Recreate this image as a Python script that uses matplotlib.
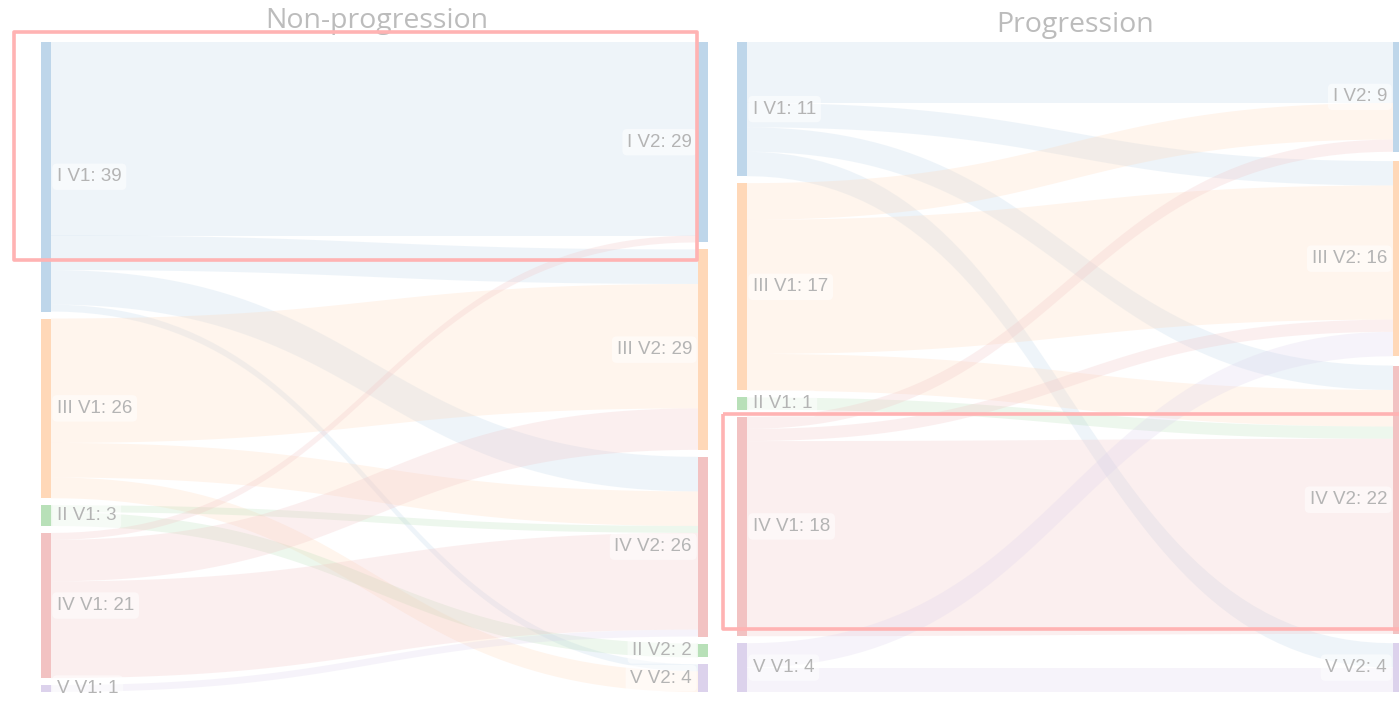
import numpy as np
import matplotlib
matplotlib.use('Agg')
import matplotlib.pyplot as plt
from matplotlib.patches import Rectangle, Polygon

# node order per column (top to bottom) and values
np_v1_names = ['I', 'III', 'II', 'IV', 'V']
np_v1_vals = [39, 26, 3, 21, 1]
np_v2_names = ['I', 'III', 'IV', 'II', 'V']
np_v2_vals = [29, 29, 26, 2, 4]
# flows (source V1 -> target V2, count)
np_src = ['I', 'I', 'I', 'I', 'III', 'III', 'III', 'II', 'II', 'IV', 'IV', 'IV', 'V']
np_tgt = ['I', 'III', 'IV', 'V', 'III', 'IV', 'V', 'IV', 'II', 'I', 'III', 'IV', 'IV']
np_cnt = [28, 5, 5, 1, 18, 5, 3, 1, 2, 1, 6, 14, 1]

pr_v1_names = ['I', 'III', 'II', 'IV', 'V']
pr_v1_vals = [11, 17, 1, 18, 4]
pr_v2_names = ['I', 'III', 'IV', 'V']
pr_v2_vals = [9, 16, 22, 4]
pr_src = ['I', 'I', 'I', 'I', 'III', 'III', 'III', 'II', 'IV', 'IV', 'IV', 'V', 'V']
pr_tgt = ['I', 'III', 'IV', 'V', 'I', 'III', 'IV', 'IV', 'I', 'III', 'IV', 'III', 'V']
pr_cnt = [5, 2, 2, 2, 3, 11, 3, 1, 1, 1, 16, 2, 2]

node_colors = {'I': '#bed6ea', 'III': '#ffd8b8', 'II': '#b8e0b8',
               'IV': '#f2c2c2', 'V': '#dcd2ec'}
text_col = '#b4b4b4'
label_font = ['Liberation Sans Narrow', 'Liberation Sans']
top, bottom, pad, node_w = 42, 692, 7, 10


def column_layout(names, vals, ky):
    gap = (bottom - top - sum(vals) * ky) / (len(vals) - 1)
    pos = {}
    y = top
    for n, v in zip(names, vals):
        pos[n] = [y, y + v * ky]
        y += v * ky + gap
    return pos


def band(ax, xa, xb, ya0, ya1, yb0, yb1, color):
    t = np.linspace(0, 1, 60)
    xm = (xa + xb) / 2
    bx = (1 - t)**3 * xa + 3 * (1 - t)**2 * t * xm + 3 * (1 - t) * t**2 * xm + t**3 * xb
    def by(y0, y1):
        return (1 - t)**3 * y0 + 3 * (1 - t)**2 * t * y0 + 3 * (1 - t) * t**2 * y1 + t**3 * y1
    xs = np.concatenate([bx, bx[::-1]])
    ys = np.concatenate([by(ya0, yb0), by(ya1, yb1)[::-1]])
    ax.add_patch(Polygon(np.column_stack([xs, ys]), closed=True, facecolor=color,
                         alpha=0.25, edgecolor='none', zorder=1))


def draw_sankey(ax, x0, x1, title, tx, ty, n1, v1, n2, v2, src, tgt, cnt):
    ky = min((bottom - top - (len(v1) - 1) * pad) / sum(v1),
             (bottom - top - (len(v2) - 1) * pad) / sum(v2))
    p1 = column_layout(n1, v1, ky)
    p2 = column_layout(n2, v2, ky)
    # links: ordered at source by target position, at target by source position
    out_off = {n: p1[n][0] for n in n1}
    in_off = {n: p2[n][0] for n in n2}
    links = list(zip(src, tgt, cnt))
    src_y = {}
    for s, t, c in sorted(links, key=lambda l: (n1.index(l[0]), n2.index(l[1]))):
        src_y[(s, t)] = out_off[s]
        out_off[s] += c * ky
    tgt_y = {}
    for s, t, c in sorted(links, key=lambda l: (n2.index(l[1]), n1.index(l[0]))):
        tgt_y[(s, t)] = in_off[t]
        in_off[t] += c * ky
    for s, t, c in links:
        ya, yb = src_y[(s, t)], tgt_y[(s, t)]
        band(ax, x0 + node_w, x1, ya, ya + c * ky, yb, yb + c * ky, node_colors[s])
    # nodes and labels
    for n, v in zip(n1, v1):
        y0, y1 = p1[n]
        ax.add_patch(Rectangle((x0, y0), node_w, y1 - y0, facecolor=node_colors[n],
                               edgecolor='none', zorder=2))
        ax.text(x0 + node_w + 6, (y0 + y1) / 2, f'{n} V1: {v}', color=text_col,
                fontsize=13.5, family=label_font, ha='left', va='center', zorder=3,
                bbox=dict(boxstyle='round,pad=0.25', fc='white', ec='none', alpha=0.55))
    for n, v in zip(n2, v2):
        y0, y1 = p2[n]
        ax.add_patch(Rectangle((x1, y0), node_w, y1 - y0, facecolor=node_colors[n],
                               edgecolor='none', zorder=2))
        ax.text(x1 - 6, (y0 + y1) / 2, f'{n} V2: {v}', color=text_col,
                fontsize=13.5, family=label_font, ha='right', va='center', zorder=3,
                bbox=dict(boxstyle='round,pad=0.25', fc='white', ec='none', alpha=0.55))
    ax.text(tx, ty, title, color='#bcbcbc', fontsize=20.5, family='Open Sans',
            ha='center', va='center', zorder=3)


fig = plt.figure(figsize=(13.99, 7.24), dpi=100)
ax = fig.add_axes([0, 0, 1, 1])
ax.set_xlim(0, 1399)
ax.set_ylim(724, 0)
ax.axis('off')

draw_sankey(ax, 41, 698, 'Non-progression', 377, 21,
            np_v1_names, np_v1_vals, np_v2_names, np_v2_vals, np_src, np_tgt, np_cnt)
draw_sankey(ax, 737, 1393, 'Progression', 1075, 25,
            pr_v1_names, pr_v1_vals, pr_v2_names, pr_v2_vals, pr_src, pr_tgt, pr_cnt)

# highlight boxes
for (bx, by, bw, bh) in [(14, 32, 683, 228), (723, 414, 680, 215)]:
    ax.add_patch(Rectangle((bx, by), bw, bh, facecolor='none', edgecolor='#ffb3b3',
                           linewidth=2.6, zorder=4, joinstyle='round'))

fig.savefig('out.png', dpi=100)
